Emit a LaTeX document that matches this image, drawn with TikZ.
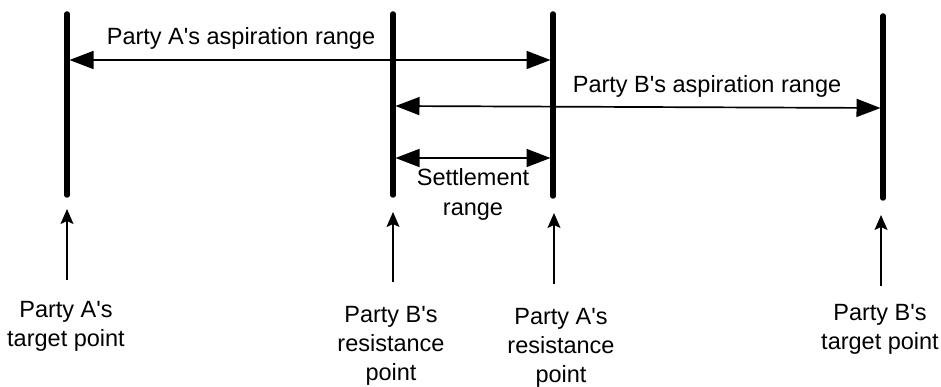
\documentclass[tikz,border=0pt]{standalone}
\usepackage{fontspec}
\setmainfont{Liberation Sans}
\usetikzlibrary{arrows.meta}
\newcommand{\aq}{\textquotesingle}
\begin{document}
\begin{tikzpicture}[x=1pt,y=-1pt,
  bar/.style={line width=5.5pt,line cap=round},
  rangearrow/.style={line width=1.7pt,{Triangle[length=24pt,width=18pt]}-{Triangle[length=24pt,width=18pt]}},
  pointer/.style={line width=1.6pt,-{Stealth[length=15pt,width=13pt,inset=3pt]}},
  lbl/.style={font=\fontsize{23.5}{29}\selectfont,align=center,inner sep=0pt}]
\useasboundingbox (0,0) rectangle (941,387);
% bar coordinates
\coordinate (at) at (67,14);  \coordinate (ab) at (67,195);
\coordinate (bt) at (393,14); \coordinate (bb) at (393,195);
\coordinate (ct) at (553,14); \coordinate (cb) at (553,196);
\coordinate (dt) at (883,16); \coordinate (db) at (883,198);
\draw[bar] (at) -- (ab);
\draw[bar] (bt) -- (bb);
\draw[bar] (ct) -- (cb);
\draw[bar] (dt) -- (db);
% range arrows
\coordinate (r1l) at (69.5,60);  \coordinate (r1r) at (550.5,60);
\coordinate (r2l) at (395.5,106); \coordinate (r2r) at (880.5,108);
\coordinate (r3l) at (395.5,158); \coordinate (r3r) at (550.5,158);
\draw[rangearrow] (r1l) -- (r1r);
\draw[rangearrow] (r2l) -- (r2r);
\draw[rangearrow] (r3l) -- (r3r);
\node[lbl,anchor=base] (la) at (241,45) {Party A\aq s aspiration range};
\node[lbl,anchor=base] (lb) at (707,93) {Party B\aq s aspiration range};
\node[lbl,anchor=base] (ls) at (473,215) {Settlement\\range};
% pointer arrows
\coordinate (pa0) at (67,280);  \coordinate (pa1) at (67,209);
\coordinate (pb0) at (393,282); \coordinate (pb1) at (393,212);
\coordinate (pc0) at (554,284); \coordinate (pc1) at (554,213);
\coordinate (pd0) at (881,286); \coordinate (pd1) at (881,215);
\draw[pointer] (pa0) -- (pa1);
\draw[pointer] (pb0) -- (pb1);
\draw[pointer] (pc0) -- (pc1);
\draw[pointer] (pd0) -- (pd1);
% point labels
\node[lbl,anchor=base] (ta) at (66,346) {Party A\aq s\\target point};
\node[lbl,anchor=base] (rb) at (391,380) {Party B\aq s\\resistance\\point};
\node[lbl,anchor=base] (ra) at (561,382) {Party A\aq s\\resistance\\point};
\node[lbl,anchor=base] (tb) at (880,349) {Party B\aq s\\target point};
\end{tikzpicture}
\end{document}
